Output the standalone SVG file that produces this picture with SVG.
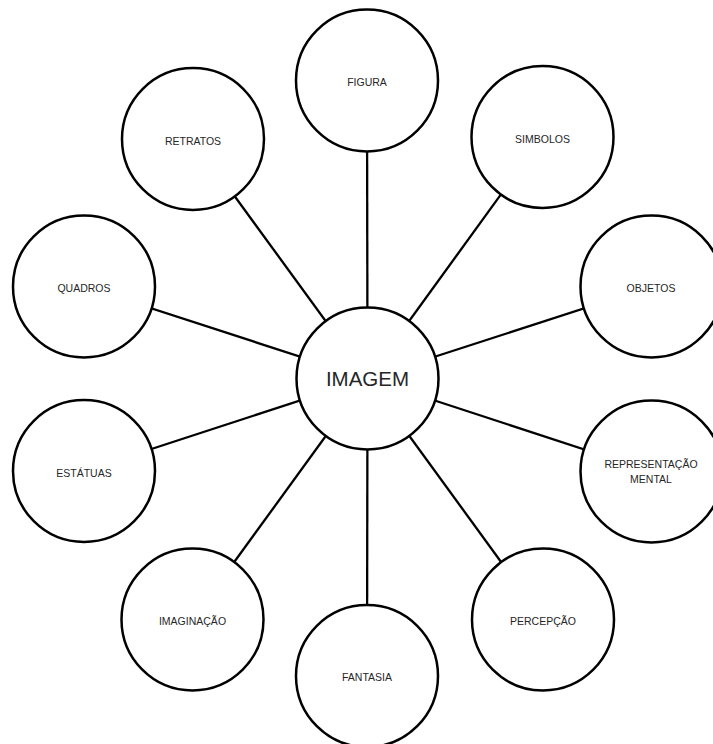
<svg xmlns="http://www.w3.org/2000/svg" width="713" height="744" viewBox="0 0 713 744">
<style>
.node circle{fill:#fff;stroke:#000;stroke-width:2.5}
.node text{font-family:"Liberation Sans",Arial,sans-serif;font-size:10.5px;fill:#262626;text-anchor:middle}
.node text.big{font-size:20.5px}
#connectors line{stroke:#000;stroke-width:2.3}
</style>
<rect width="713" height="744" fill="#fff"/>
<g id="connectors">
<line x1="367.5" y1="378.5" x2="367" y2="80.5"/>
<line x1="367.5" y1="378.5" x2="542.5" y2="137"/>
<line x1="367.5" y1="378.5" x2="651.5" y2="286.5"/>
<line x1="367.5" y1="378.5" x2="651.5" y2="471.5"/>
<line x1="367.5" y1="378.5" x2="543" y2="619.5"/>
<line x1="367.5" y1="378.5" x2="367" y2="676"/>
<line x1="367.5" y1="378.5" x2="192.5" y2="619.5"/>
<line x1="367.5" y1="378.5" x2="84" y2="471"/>
<line x1="367.5" y1="378.5" x2="84" y2="286.5"/>
<line x1="367.5" y1="378.5" x2="193" y2="139"/>
</g>
<g id="imagem" class="node"><circle cx="367.5" cy="378.5" r="71"/><text class="big" x="367.5" y="386">IMAGEM</text></g>
<g id="figura" class="node"><circle cx="367" cy="80.5" r="71"/><text x="367" y="86">FIGURA</text></g>
<g id="simbolos" class="node"><circle cx="542.5" cy="137" r="71"/><text x="542.5" y="143">SIMBOLOS</text></g>
<g id="objetos" class="node"><circle cx="651.5" cy="286.5" r="71"/><text x="651" y="292">OBJETOS</text></g>
<g id="representacao" class="node"><circle cx="651.5" cy="471.5" r="71"/><text x="651" y="468">REPRESENTAÇÃO</text><text x="651" y="482.5">MENTAL</text></g>
<g id="percepcao" class="node"><circle cx="543" cy="619.5" r="71"/><text x="543" y="625">PERCEPÇÃO</text></g>
<g id="fantasia" class="node"><circle cx="367" cy="676" r="71"/><text x="367" y="681">FANTASIA</text></g>
<g id="imaginacao" class="node"><circle cx="192.5" cy="619.5" r="71"/><text x="192.5" y="625">IMAGINAÇÃO</text></g>
<g id="estatuas" class="node"><circle cx="84" cy="471" r="71"/><text x="84" y="476.5">ESTÁTUAS</text></g>
<g id="quadros" class="node"><circle cx="84" cy="286.5" r="71"/><text x="84" y="292">QUADROS</text></g>
<g id="retratos" class="node"><circle cx="193" cy="139" r="71"/><text x="193" y="144.5">RETRATOS</text></g>
</svg>
